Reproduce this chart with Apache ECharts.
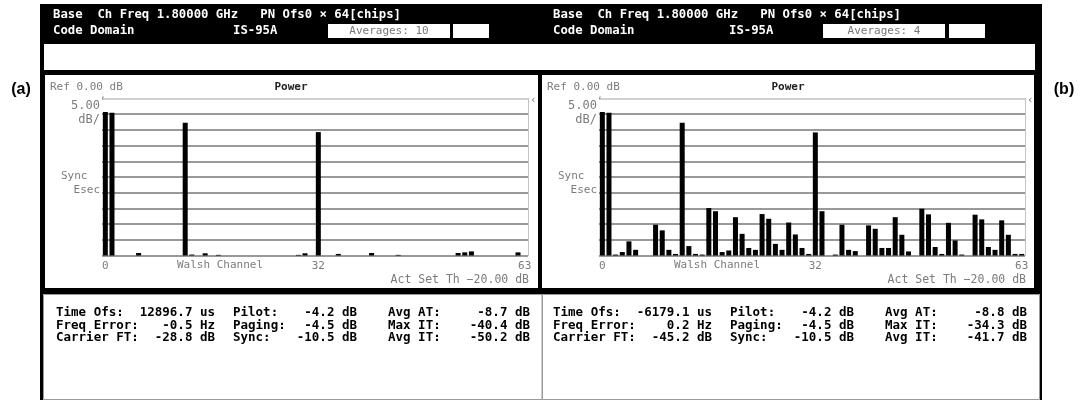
<!DOCTYPE html>
<html>
<head>
<meta charset="utf-8">
<script src="https://cdn.jsdelivr.net/npm/echarts@6/dist/echarts.min.js"></script>
<style>
html,body{margin:0;padding:0;background:#fff;}
#chart{width:1089px;height:400px;}
</style>
</head>
<body>
<div id="chart"></div>
<script>
// ---------- DATA ----------
const channels = Array.from({length: 64}, (_, i) => String(i));   // Walsh channel 0..63
const tickChannels = [0, 32, 63];
const FLOOR_DB = -50;          // bottom of the 10 x 5 dB display
const REF_DB = 0;              // Ref 0.00 dB (top)

// (a) averages 10 — code domain power per Walsh channel (dB)
const powerA = [
  -4.3, -4.5, -50, -50, -50, -49.2, -50, -50,
  -50, -50, -50, -50, -7.7, -49.7, -50, -49.3,
  -50, -49.8, -50, -50, -50, -50, -50, -50,
  -50, -50, -50, -50, -50, -49.8, -49.3, -50,
  -10.7, -50, -50, -49.5, -50, -50, -50, -50,
  -49.2, -50, -50, -50, -49.8, -50, -50, -50,
  -50, -50, -50, -50, -50, -49.2, -49.0, -48.7,
  -50, -50, -50, -50, -50, -50, -49.0, -50
];
// (b) averages 4
const powerB = [
  -4.3, -4.5, -49.7, -48.9, -45.5, -48.2, -50, -50,
  -40.2, -42.0, -48.2, -49.5, -7.7, -47.0, -49.5, -49.7,
  -34.9, -35.9, -48.9, -48.4, -37.8, -43.1, -47.6, -48.2,
  -36.8, -38.3, -46.3, -48.2, -39.5, -43.3, -47.6, -49.5,
  -10.8, -35.9, -50, -49.7, -40.2, -48.2, -48.6, -50,
  -40.4, -41.5, -47.6, -47.6, -37.8, -43.4, -48.7, -50,
  -35.1, -36.9, -47.3, -49.5, -39.6, -45.2, -49.7, -50,
  -37.0, -38.5, -47.3, -48.2, -38.8, -43.4, -49.5, -49.5
];

const averagesA = 'Averages: 10';
const averagesB = 'Averages: 4';
const headerLine1 = 'Base  Ch Freq 1.80000 GHz   PN Ofs0 \u00d7 64[chips]';
const headerLine2 = 'Code Domain';
const standard = 'IS-95A';

const infoLabels1 = ['Time Ofs:', 'Freq Error:', 'Carrier FT:'];
const infoLabels2 = ['Pilot:', 'Paging:', 'Sync:'];
const infoLabels3 = ['Avg AT:', 'Max IT:', 'Avg IT:'];
const infoA1 = ['12896.7 us', '-0.5 Hz', '-28.8 dB'];
const infoA2 = ['-4.2 dB', '-4.5 dB', '-10.5 dB'];
const infoA3 = ['-8.7 dB', '-40.4 dB', '-50.2 dB'];
const infoB1 = ['-6179.1 us', '0.2 Hz', '-45.2 dB'];
const infoB2 = ['-4.2 dB', '-4.5 dB', '-10.5 dB'];
const infoB3 = ['-8.8 dB', '-34.3 dB', '-41.7 dB'];

// ---------- LAYOUT ----------
const MONO = "'DejaVu Sans Mono', 'Liberation Mono', monospace";
const DX = 497;                 // horizontal offset of panel (b)
const PLOT = {left: 102, top: 98.5, width: 426, height: 157};
const GRAY = '#7c7c7c';

function txt(x, y, text, opt) {
  opt = opt || {};
  return {
    type: 'text', z: 20,
    style: {
      x: x, y: y, text: text,
      fill: opt.fill || GRAY,
      font: (opt.weight || 'normal') + ' ' + (opt.size || 11) + 'px ' + (opt.family || MONO),
      textAlign: opt.align || 'left',
      textVerticalAlign: 'middle'
    }
  };
}
function rect(x, y, w, h, fill, stroke) {
  return {
    type: 'rect', z: -10,
    shape: {x: x, y: y, width: w, height: h},
    style: {fill: fill, stroke: stroke || null, lineWidth: stroke ? 1 : 0}
  };
}

const graphics = [];
// outer black frame
graphics.push(rect(40, 4, 1002, 290, '#000'));
// white info area + borders
graphics.push(rect(43.5, 294.5, 498.5, 105, '#fff', '#9a9a9a'));
graphics.push(rect(542.5, 294.5, 497, 105, '#fff', '#9a9a9a'));
graphics.push(rect(40, 294, 3, 106, '#000'));
graphics.push(rect(1040, 294, 2, 106, '#000'));

function panel(dx, averages, v1, v2, v3, hdr) {
  // white status row
  graphics.push(rect(44 + dx, 44, dx ? 494 : 497, 26, '#fff'));
  // chart box
  graphics.push(rect(45 + dx, 75, dx ? 492 : 493, 213, '#fff'));
  // averages boxes
  graphics.push(rect(hdr.avg, 24, 122, 14, '#fff'));
  graphics.push(rect(hdr.small, 24, 36, 14, '#fff'));
  // header
  graphics.push(txt(hdr.base, 14.5, headerLine1, {fill: '#fff', weight: 'bold', size: 12.3}));
  graphics.push(txt(hdr.base, 31, headerLine2, {fill: '#fff', weight: 'bold', size: 12.3}));
  graphics.push(txt(hdr.std, 31, standard, {fill: '#fff', weight: 'bold', size: 12.3}));
  graphics.push(txt(hdr.avg + 61, 31.5, averages, {fill: '#777', size: 11, align: 'center'}));
  // chart texts
  graphics.push(txt(50 + dx, 87.5, 'Ref 0.00 dB', {size: 11}));
  graphics.push(txt(291 + dx, 87.5, 'Power', {fill: '#222', weight: 'bold', size: 11, align: 'center'}));
  graphics.push(txt(100 + dx, 106, '5.00', {size: 12, align: 'right'}));
  graphics.push(txt(100 + dx, 120, 'dB/', {size: 12, align: 'right'}));
  graphics.push(txt(61 + dx, 176, 'Sync', {size: 11}));
  graphics.push(txt(100 + dx, 190, 'Esec', {size: 11, align: 'right'}));
  graphics.push(txt(100 + dx, 101, '\u02bc', {size: 9}));
  graphics.push(txt(530 + dx, 100, '\u2039', {size: 11}));
  graphics.push(txt(220 + dx, 265, 'Walsh Channel', {size: 11, align: 'center'}));
  graphics.push(txt(529 + dx, 280, 'Act Set Th \u221220.00 dB', {size: 11.5, align: 'right'}));
  // info rows
  const rows = [313, 325.5, 338];
  for (let i = 0; i < 3; i++) {
    const o = {fill: '#000', weight: 'bold', size: 12.5};
    graphics.push(txt(56 + dx, rows[i], infoLabels1[i], o));
    graphics.push(txt(215 + dx, rows[i], v1[i], Object.assign({align: 'right'}, o)));
    graphics.push(txt(233 + dx, rows[i], infoLabels2[i], o));
    graphics.push(txt(357 + dx, rows[i], v2[i], Object.assign({align: 'right'}, o)));
    graphics.push(txt(388 + dx, rows[i], infoLabels3[i], o));
    graphics.push(txt(530 + dx, rows[i], v3[i], Object.assign({align: 'right'}, o)));
  }
}
panel(0, averagesA, infoA1, infoA2, infoA3, {base: 53, std: 233, avg: 328, small: 453});
panel(DX, averagesB, infoB1, infoB2, infoB3, {base: 553, std: 729, avg: 823, small: 949});
// panel labels
graphics.push(txt(21, 90, '(a)', {fill: '#000', weight: 'bold', size: 16, family: "'Liberation Sans Narrow','Liberation Sans',Arial,sans-serif", align: 'center'}));
graphics.push(txt(1064, 90, '(b)', {fill: '#000', weight: 'bold', size: 16, family: "'Liberation Sans Narrow','Liberation Sans',Arial,sans-serif", align: 'center'}));

const splitColors = ['#999','#999','#999','#999','#999','#999','#999','#999','#999','#999','#d0d0d0'];

function xAxis(g) {
  return {
    gridIndex: g, type: 'category', data: channels, boundaryGap: true,
    axisLine: {show: false}, axisTick: {show: false}, splitLine: {show: false},
    axisLabel: {
      interval: 0, color: GRAY, fontSize: 11, fontFamily: MONO, margin: 5,
      formatter: (v, i) => tickChannels.indexOf(i) >= 0 ? v : ''
    }
  };
}
function yAxis(g) {
  return {
    gridIndex: g, type: 'value', position: 'right',
    min: 0, max: REF_DB - FLOOR_DB, interval: 5,
    axisLine: {show: true, lineStyle: {color: '#c4c4c4', width: 1}},
    axisTick: {show: false}, axisLabel: {show: false},
    splitLine: {show: true, showMinLine: true, showMaxLine: true,
      lineStyle: {color: splitColors, width: 2}}
  };
}
function bars(g, data) {
  return {
    type: 'bar', xAxisIndex: g, yAxisIndex: g,
    data: data.map(v => v - FLOOR_DB),
    barWidth: 5, itemStyle: {color: '#000'}, silent: true, animation: false
  };
}

const chart = echarts.init(document.getElementById('chart'), null, {renderer: 'canvas'});
chart.setOption({
  animation: false,
  backgroundColor: '#fff',
  grid: [
    Object.assign({}, PLOT),
    Object.assign({}, PLOT, {left: PLOT.left + DX})
  ],
  xAxis: [xAxis(0), xAxis(1)],
  yAxis: [yAxis(0), yAxis(1)],
  series: [bars(0, powerA), bars(1, powerB)],
  graphic: graphics
});
</script>
</body>
</html>
